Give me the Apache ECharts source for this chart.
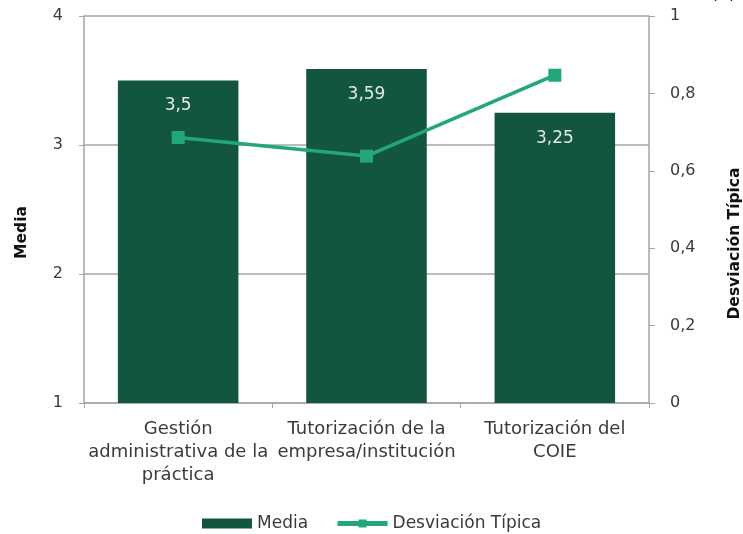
<!DOCTYPE html>
<html>
<head>
<meta charset="utf-8">
<script src="https://cdn.jsdelivr.net/npm/echarts@6/dist/echarts.min.js"></script>
<style>
  html, body { margin: 0; padding: 0; background: #ffffff; }
  #chart { width: 743px; height: 534px; }
</style>
</head>
<body>
<div id="chart"></div>
<script>
// Categories and values
var categories = [
  'Gestión\nadministrativa de la\npráctica',
  'Tutorización de la\nempresa/institución',
  'Tutorización del\nCOIE'
];
var mediaValues = [3.5, 3.59, 3.25];
var desviacionValues = [0.686, 0.638, 0.847];
var leftTicks = [1, 2, 3, 4];
var rightTicks = [0, 0.2, 0.4, 0.6, 0.8, 1];

var FONT = '"DejaVu Sans", "Liberation Sans", sans-serif';
var AXIS_GREY = '#a6a6a6';
var TEXT_GREY = '#3a3a3a';
var LINE_GREEN = '#22a878';

function comma(v) {
  return String(v).replace('.', ',');
}

var chart = echarts.init(document.getElementById('chart'));
chart.setOption({
  animation: false,
  textStyle: { fontFamily: FONT },
  grid: {
    left: 84, right: 94, top: 16, bottom: 131,
    containLabel: false,
    outerBoundsMode: 'none'
  },
  graphic: [{
    type: 'text',
    left: 711,
    top: -15,
    style: { text: '(a)', fontSize: 18, fill: '#222', fontFamily: FONT }
  }],
  legend: {
    top: 510,
    left: 197,
    itemWidth: 50,
    itemHeight: 10,
    itemGap: 27,
    textStyle: { fontSize: 17, color: TEXT_GREY, fontFamily: FONT },
    data: [
      { name: 'Media', icon: 'rect' },
      { name: 'Desviación Típica', lineStyle: { width: 5, color: LINE_GREEN } }
    ]
  },
  xAxis: {
    type: 'category',
    data: categories,
    axisLine: { lineStyle: { color: AXIS_GREY, width: 1.5 } },
    axisTick: { show: true, length: 5, lineStyle: { color: AXIS_GREY } },
    axisLabel: {
      interval: 0,
      margin: 15,
      fontSize: 18,
      lineHeight: 23,
      color: TEXT_GREY,
      fontFamily: FONT
    }
  },
  yAxis: [{
    type: 'value',
    min: leftTicks[0],
    max: leftTicks[leftTicks.length - 1],
    interval: 1,
    name: 'Media',
    nameLocation: 'middle',
    nameGap: 54,
    nameRotate: 90,
    nameTextStyle: {
      fontSize: 15.5, fontWeight: 'bold', color: '#111', fontFamily: FONT,
      padding: [0, 46, 0, 0]
    },
    axisLine: { show: true, lineStyle: { color: AXIS_GREY, width: 1.5 } },
    axisTick: { show: true, length: 5, lineStyle: { color: AXIS_GREY } },
    splitLine: { show: true, lineStyle: { color: AXIS_GREY, width: 1.5 } },
    axisLabel: { fontSize: 16, color: TEXT_GREY, margin: 21, fontFamily: FONT }
  }, {
    type: 'value',
    min: rightTicks[0],
    max: rightTicks[rightTicks.length - 1],
    interval: 0.2,
    name: 'Desviación Típica',
    nameLocation: 'middle',
    nameGap: 78,
    nameRotate: 90,
    nameTextStyle: {
      fontSize: 15.5, fontWeight: 'bold', color: '#111', fontFamily: FONT,
      padding: [0, 68, 0, 0]
    },
    axisLine: { show: true, lineStyle: { color: AXIS_GREY, width: 1.5 } },
    axisTick: { show: true, length: 6, lineStyle: { color: AXIS_GREY } },
    splitLine: { show: false },
    axisLabel: {
      fontSize: 16,
      color: TEXT_GREY,
      margin: 21,
      fontFamily: FONT,
      formatter: function (v) { return comma(Math.round(v * 10) / 10); }
    }
  }],
  series: [{
    name: 'Media',
    type: 'bar',
    data: mediaValues,
    barWidth: '64%',
    itemStyle: { color: '#12563f' },
    label: {
      show: true,
      position: 'insideTop',
      distance: 17,
      fontSize: 17,
      color: '#e6e6e6',
      fontFamily: FONT,
      formatter: function (p) { return comma(p.value); }
    },
    z: 2
  }, {
    name: 'Desviación Típica',
    type: 'line',
    yAxisIndex: 1,
    data: desviacionValues,
    symbol: 'rect',
    symbolSize: 13,
    lineStyle: { color: LINE_GREEN, width: 3.5 },
    itemStyle: { color: LINE_GREEN },
    z: 3
  }]
});
</script>
</body>
</html>
